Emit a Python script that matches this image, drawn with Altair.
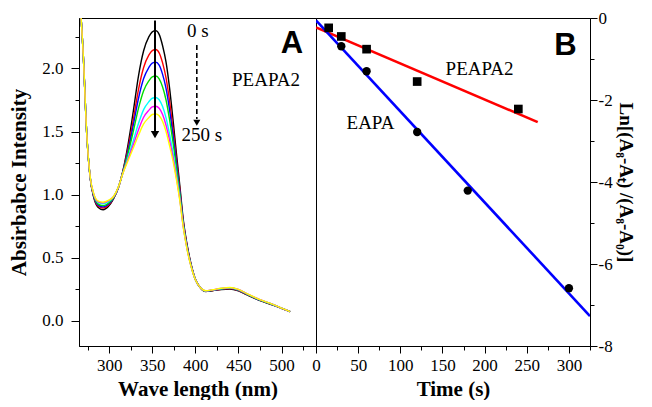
import altair as alt
import pandas as pd

# ---------------- Panel A: absorbance spectra ----------------
wavelength = [266, 270, 274, 278, 282, 287, 293, 299, 305, 311, 316, 322, 328, 334, 340,
              346, 350, 354, 358, 362, 366, 370, 374, 378, 382, 386, 390, 395, 400, 406,
              412, 420, 430, 440, 450, 460, 475, 490, 500, 510]

abs_black = [2.55, 2.10, 1.48, 1.13, 0.98, 0.90, 0.88, 0.905, 0.965, 1.06, 1.19, 1.40, 1.66, 1.94, 2.14,
             2.25, 2.29, 2.30, 2.27, 2.18, 2.05, 1.85, 1.60, 1.33, 1.07, 0.80, 0.62, 0.45, 0.33, 0.26,
             0.232, 0.238, 0.248, 0.252, 0.237, 0.205, 0.160, 0.125, 0.098, 0.072]
abs_red = [2.55, 2.10, 1.48, 1.132, 0.987, 0.911, 0.894, 0.916, 0.970, 1.062, 1.185, 1.370, 1.594, 1.833, 2.008,
           2.105, 2.141, 2.150, 2.124, 2.044, 1.925, 1.746, 1.525, 1.282, 1.043, 0.786, 0.611, 0.445, 0.329, 0.260,
           0.233, 0.240, 0.250, 0.255, 0.240, 0.207, 0.162, 0.126, 0.099, 0.072]
abs_blue = [2.55, 2.10, 1.48, 1.134, 0.991, 0.919, 0.903, 0.924, 0.973, 1.063, 1.182, 1.351, 1.550, 1.762, 1.920,
            2.007, 2.042, 2.050, 2.026, 1.953, 1.842, 1.676, 1.475, 1.250, 1.025, 0.777, 0.605, 0.442, 0.328, 0.261,
            0.234, 0.241, 0.252, 0.257, 0.242, 0.209, 0.163, 0.127, 0.099, 0.072]
abs_green = [2.55, 2.10, 1.48, 1.135, 0.996, 0.927, 0.913, 0.932, 0.976, 1.064, 1.179, 1.329, 1.502, 1.684, 1.824,
             1.901, 1.933, 1.940, 1.918, 1.853, 1.750, 1.599, 1.420, 1.216, 1.005, 0.767, 0.598, 0.439, 0.327, 0.261,
             0.235, 0.242, 0.253, 0.259, 0.244, 0.210, 0.164, 0.128, 0.100, 0.072]
abs_cyan = [2.55, 2.10, 1.48, 1.138, 1.004, 0.940, 0.928, 0.945, 0.981, 1.065, 1.174, 1.296, 1.427, 1.563, 1.674,
            1.736, 1.764, 1.770, 1.752, 1.698, 1.608, 1.481, 1.335, 1.161, 0.974, 0.752, 0.588, 0.434, 0.326, 0.262,
            0.236, 0.244, 0.256, 0.262, 0.247, 0.213, 0.166, 0.129, 0.100, 0.072]
abs_magenta = [2.55, 2.10, 1.48, 1.139, 1.007, 0.945, 0.935, 0.950, 0.983, 1.065, 1.172, 1.282, 1.396, 1.513, 1.613,
               1.668, 1.695, 1.700, 1.684, 1.635, 1.550, 1.432, 1.300, 1.139, 0.961, 0.745, 0.584, 0.432, 0.325, 0.262,
               0.237, 0.245, 0.257, 0.263, 0.248, 0.214, 0.167, 0.130, 0.101, 0.072]
abs_yellow = [2.55, 2.10, 1.48, 1.14, 1.01, 0.95, 0.94, 0.955, 0.985, 1.066, 1.17, 1.27, 1.37, 1.47, 1.56,
              1.61, 1.635, 1.64, 1.625, 1.58, 1.50, 1.39, 1.27, 1.12, 0.95, 0.74, 0.58, 0.43, 0.325, 0.262,
              0.238, 0.246, 0.258, 0.264, 0.249, 0.215, 0.168, 0.130, 0.101, 0.072]

series_names = ["c0", "c1", "c2", "c3", "c4", "c5", "c6"]
series_colors = ["#000000", "#ff0000", "#0000ff", "#00dd00", "#00ffff", "#ff00ff", "#ffff00"]
series_values = [abs_black, abs_red, abs_blue, abs_green, abs_cyan, abs_magenta, abs_yellow]

# annotations panel A
a_text_x = [403, 407.5, 482]
a_text_y = [2.30, 1.475, 1.91]
a_text = ["0 s", "250 s", "PEAPA2"]
a_letter = ["A"]
a_letter_x = [512]
a_letter_y = [2.19]
solid_arrow = {"x": 353.2, "y": 2.38, "y2": 1.50, "head": 1.475}
dash_arrow = {"x": 401.7, "y": 2.185, "y2": 1.60, "head": 1.57}

# ---------------- Panel B: kinetics ----------------
peapa_t = [15, 30, 60, 120, 240]
peapa_y = [-0.24, -0.45, -0.76, -1.55, -2.22]
eapa_t = [30, 60, 120, 180, 300]
eapa_y = [-0.69, -1.30, -2.78, -4.21, -6.59]
peapa_fit_t = [0, 263]
peapa_fit_y = [-0.23, -2.54]
eapa_fit_t = [0, 325]
eapa_fit_y = [-0.06, -7.27]
b_text = ["PEAPA2", "EAPA"]
b_text_x = [194, 64.6]
b_text_y = [-1.24, -2.57]
b_letter = ["B"]
b_letter_x = [296]
b_letter_y = [-0.69]

# ---------------- build tables ----------------
rows = []
for name, vals in zip(series_names, series_values):
    for w, v in zip(wavelength, vals):
        rows.append({"wl": w, "A": v, "series": name})
spec_df = pd.DataFrame(rows)

SERIF = "Liberation Serif"
LAB = 17
TIT = 21

xA = alt.Scale(domain=[265, 540], nice=False, zero=False)
yA = alt.Scale(domain=[-0.2, 2.4], nice=False, zero=False)
xB = alt.Scale(domain=[0, 325], nice=False, zero=False)
yB = alt.Scale(domain=[-8, 0], nice=False, zero=False)


def tick_size(test, big=7):
    return {"condition": {"test": test, "value": big}, "value": 4}


def axis_style(title_size=TIT):
    return dict(labelFont=SERIF, labelFontSize=LAB, titleFont=SERIF, titleFontSize=title_size,
                titleFontWeight="bold", domainColor="black", tickColor="black",
                labelColor="black", titleColor="black", grid=False, labelOverlap=False,
                labelFlush=False)


maj_ya = "abs(datum.value*2 - round(datum.value*2)) < 0.000001"
axis_xA = alt.Axis(values=list(range(275, 540, 25)), tickSize=tick_size("datum.value % 50 === 0"),
                   labelExpr="datum.value % 50 === 0 ? format(datum.value, 'd') : ''",
                   labelPadding=4, titlePadding=5, **axis_style())
axis_yA = alt.Axis(values=[0, 0.25, 0.5, 0.75, 1.0, 1.25, 1.5, 1.75, 2.0, 2.25],
                   tickSize=tick_size(maj_ya, 8),
                   labelExpr=maj_ya + " ? format(datum.value, '.1f') : ''",
                   labelPadding=8, titlePadding=12, **axis_style())
axis_xB = alt.Axis(values=list(range(0, 326, 25)), tickSize=tick_size("datum.value % 50 === 0"),
                   labelExpr="datum.value % 50 === 0 ? format(datum.value, 'd') : ''",
                   labelPadding=4, titlePadding=5, **axis_style())
axis_yB = alt.Axis(orient="right", values=[-8, -7, -6, -5, -4, -3, -2, -1, 0],
                   tickSize=tick_size("datum.value % 2 === 0"),
                   labelExpr="datum.value % 2 === 0 ? (datum.value < 0 ? '-' + abs(datum.value) : '0') : ''",
                   labelPadding=1, titlePadding=3, **axis_style(19))


def xa(field):
    return alt.X(field, scale=xA, axis=axis_xA, title="Wave length (nm)")


def ya(field):
    return alt.Y(field, scale=yA, axis=axis_yA, title="Absirbabce Intensity")


lines = alt.Chart(spec_df).mark_line(strokeWidth=1.4, interpolate="monotone", clip=True).encode(
    x=xa("wl:Q"), y=ya("A:Q"),
    color=alt.Color("series:N", scale=alt.Scale(domain=series_names, range=series_colors), legend=None),
)

a_txt_df = pd.DataFrame({"x": a_text_x, "y": a_text_y, "t": a_text})
a_txt = alt.Chart(a_txt_df).mark_text(font=SERIF, fontSize=19, color="black").encode(
    x=xa("x:Q"), y=ya("y:Q"), text="t:N")
a_let = alt.Chart(pd.DataFrame({"x": a_letter_x, "y": a_letter_y, "t": a_letter})).mark_text(
    font="Liberation Sans", fontSize=31, fontWeight="bold", color="black").encode(
    x=xa("x:Q"), y=ya("y:Q"), text="t:N")

solid_df = pd.DataFrame([solid_arrow])
dash_df = pd.DataFrame([dash_arrow])
solid_line = alt.Chart(solid_df).mark_rule(color="black", strokeWidth=2).encode(
    x=xa("x:Q"), y=ya("y:Q"), y2="y2:Q")
solid_head = alt.Chart(solid_df).mark_point(shape="triangle-down", filled=True, color="black",
                                            size=70, opacity=1).encode(
    x=xa("x:Q"), y=ya("head:Q"))
dash_line = alt.Chart(dash_df).mark_rule(color="black", strokeWidth=1.6, strokeDash=[5, 3]).encode(
    x=xa("x:Q"), y=ya("y:Q"), y2="y2:Q")
dash_head = alt.Chart(dash_df).mark_point(shape="triangle-down", filled=True, color="black",
                                          size=50, opacity=1).encode(
    x=xa("x:Q"), y=ya("head:Q"))

panelA = alt.layer(lines, solid_line, solid_head, dash_line, dash_head, a_txt, a_let).properties(
    width=237, height=328)


# Panel B
def xb(field):
    return alt.X(field, scale=xB, axis=axis_xB, title="Time (s)")


def yb(field):
    return alt.Y(field, scale=yB, axis=axis_yB, title="Ln[(A₈-Aₜ) /(A₈-A₀)]")


fit_df = pd.DataFrame({
    "t": peapa_fit_t + eapa_fit_t,
    "v": peapa_fit_y + eapa_fit_y,
    "s": ["PEAPA2"] * len(peapa_fit_t) + ["EAPA"] * len(eapa_fit_t),
})
fits = alt.Chart(fit_df).mark_line(strokeWidth=2.6, clip=True).encode(
    x=xb("t:Q"), y=yb("v:Q"),
    color=alt.Color("s:N", scale=alt.Scale(domain=["PEAPA2", "EAPA"], range=["#ff0000", "#0000ff"]),
                    legend=None),
)
sq = alt.Chart(pd.DataFrame({"t": peapa_t, "v": peapa_y})).mark_point(
    shape="square", filled=True, color="black", size=75, opacity=1).encode(
    x=xb("t:Q"), y=yb("v:Q"))
ci = alt.Chart(pd.DataFrame({"t": eapa_t, "v": eapa_y})).mark_point(
    shape="circle", filled=True, color="black", size=70, opacity=1).encode(
    x=xb("t:Q"), y=yb("v:Q"))
b_txt = alt.Chart(pd.DataFrame({"x": b_text_x, "y": b_text_y, "t": b_text})).mark_text(
    font=SERIF, fontSize=19, color="black").encode(
    x=xb("x:Q"), y=yb("y:Q"), text="t:N")
b_let = alt.Chart(pd.DataFrame({"x": b_letter_x, "y": b_letter_y, "t": b_letter})).mark_text(
    font="Liberation Sans", fontSize=31, fontWeight="bold", color="black").encode(
    x=xb("x:Q"), y=yb("y:Q"), text="t:N")

panelB = alt.layer(fits, sq, ci, b_txt, b_let).properties(width=274, height=328)

chart = alt.hconcat(panelA, panelB, spacing=0, bounds="flush").resolve_scale(
    color="independent").properties(
    padding={"left": 0, "top": 0, "right": 8, "bottom": 0},
    background="white",
).configure_view(stroke="black", strokeWidth=1).configure_axis(labelOverlap=False)

chart.save("out.html", embed_options={"renderer": "svg", "actions": False})
